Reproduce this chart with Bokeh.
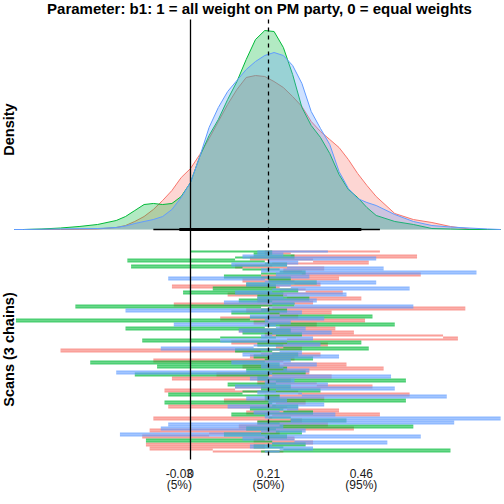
import numpy as np
from bokeh.plotting import figure
from bokeh.models import Range1d, Label, FixedTicker
from bokeh.embed import file_html
from bokeh.resources import INLINE

# ---- data -------------------------------------------------------------
chain_names = ["chain 1", "chain 2", "chain 3"]
chain_colors = ["#F8766D", "#00BA38", "#619CFF"]

# posterior density of b1 per chain, evaluated on a common grid
dens_x = [-0.475, -0.45, -0.40, -0.35, -0.30, -0.25, -0.20, -0.175, -0.15, -0.125,
          -0.10, -0.075, -0.05, -0.025, 0.0, 0.025, 0.05, 0.075, 0.10, 0.125,
          0.15, 0.175, 0.20, 0.225, 0.25, 0.275, 0.30, 0.325, 0.35, 0.375,
          0.40, 0.425, 0.45, 0.475, 0.50, 0.55, 0.60, 0.65, 0.70, 0.75, 0.80, 0.835]
dens_red = [0, 0, 0, 0, 0.003, 0.007, 0.027, 0.053, 0.107, 0.173,
            0.267, 0.387, 0.52, 0.693, 0.813, 1.0, 1.213, 1.44, 1.667, 1.867,
            2.027, 2.053, 2.04, 1.973, 1.893, 1.773, 1.64, 1.44, 1.307, 1.2,
            1.093, 0.933, 0.747, 0.587, 0.44, 0.213, 0.133, 0.093, 0.04, 0.007, 0, 0]
dens_green = [0, 0, 0.007, 0.02, 0.04, 0.067, 0.12, 0.173, 0.253, 0.333,
              0.347, 0.333, 0.347, 0.44, 0.627, 0.973, 1.253, 1.467, 1.733, 1.973,
              2.267, 2.533, 2.653, 2.64, 2.427, 2.067, 1.627, 1.387, 1.227, 1.013,
              0.733, 0.533, 0.427, 0.293, 0.187, 0.107, 0.067, 0.013, 0.007, 0, 0, 0]
dens_blue = [0, 0, 0.004, 0.007, 0.011, 0.013, 0.027, 0.047, 0.08, 0.107,
             0.133, 0.173, 0.267, 0.427, 0.627, 0.973, 1.36, 1.627, 1.84, 1.987,
             2.133, 2.24, 2.32, 2.36, 2.32, 2.187, 1.947, 1.573, 1.347, 1.133,
             0.773, 0.547, 0.413, 0.36, 0.32, 0.2, 0.107, 0.053, 0.033, 0.02, 0.007, 0]

# sampled values of b1, one list per chain (scan order)
trace_red = [0.51, 0.20, 0.27, 0.61, 0.16, 0.33, 0.48, 0.22, 0.12, 0.36,
             0.25, 0.30, 0.62, 0.19, 0.40, 0.14, 0.28, 0.35, -0.05, 0.24,
             0.31, 0.41, 0.10, 0.26, 0.46, 0.18, 0.33, -0.045, 0.22, 0.74,
             0.15, 0.38, 0.21, 0.29, 0.08, 0.47, 0.17, 0.34, 0.24, 0.39,
             0.13, 0.44, 0.20, 0.68, 0.72, 0.26, 0.11, 0.37, 0.23, 0.30,
             -0.35, 0.19, 0.35, 0.16, 0.28, -0.10, 0.25, 0.42, 0.14, 0.52,
             0.21, 0.32, 0.07, 0.38, -0.05, 0.27, 0.18, 0.34, 0.49, 0.12,
             -0.07, 0.29, 0.59, 0.20, 0.36, 0.09, 0.31, 0.23, -0.06, 0.26,
             0.40, 0.15, 0.51, 0.22, -0.10, 0.30, 0.18, 0.37, 0.13, 0.44,
             -0.11, 0.24, 0.05, -0.13, 0.28, 0.17, 0.33, -0.12, 0.20, -0.11,
             0.06, 0.25]
trace_green = [0.00, 0.22, 0.17, 0.28, 0.12, -0.17, 0.20, 0.26, -0.16, 0.14,
               0.24, 0.31, 0.19, 0.09, 0.27, 0.21, 0.34, 0.15, 0.23, 0.06,
               0.29, -0.02, 0.25, 0.18, 0.32, 0.13, 0.22, 0.28, -0.31, 0.19,
               0.26, 0.11, 0.24, 0.49, 0.16, -0.47, 0.21, 0.55, 0.20, -0.175,
               0.27, 0.14, 0.30, 0.23, 0.08, -0.13, 0.46, 0.18, 0.25, 0.48,
               0.12, 0.22, 0.29, 0.17, 0.33, 0.20, -0.27, 0.24, -0.09, 0.26,
               0.15, 0.31, -0.15, 0.21, 0.18, 0.58, 0.23, 0.10, 0.27, 0.19,
               0.35, 0.14, -0.06, 0.24, 0.20, 0.58, -0.07, 0.22, 0.29, 0.16,
               0.25, 0.33, 0.11, 0.21, 0.27, 0.42, 0.18, 0.24, 0.60, 0.15,
               0.23, 0.30, 0.09, 0.26, 0.20, -0.12, 0.22, 0.31, 0.17, 0.25,
               0.70, 0.19]
trace_blue = [0.37, 0.18, 0.25, 0.14, 0.50, 0.21, 0.29, 0.11, 0.26, 0.52,
              0.19, 0.77, 0.23, 0.32, -0.06, 0.20, 0.50, 0.15, 0.27, 0.59,
              0.22, 0.12, 0.42, 0.25, 0.18, 0.34, 0.09, 0.28, 0.60, 0.21,
              -0.175, 0.30, 0.24, 0.16, 0.36, 0.20, 0.27, -0.045, 0.23, 0.31,
              0.13, 0.38, 0.22, 0.19, 0.33, 0.08, 0.26, 0.35, 0.17, -0.08,
              0.24, 0.30, 0.14, 0.40, 0.21, 0.27, 0.11, 0.34, 0.19, 0.25,
              0.32, -0.20, 0.22, 0.54, 0.16, 0.28, 0.20, 0.37, 0.12, 0.55,
              0.23, 0.18, 0.30, 0.69, 0.15, 0.26, 0.21, 0.36, 0.10, 0.29,
              0.24, 0.17, 0.39, 0.20, 0.835, 0.27, 0.71, -0.06, 0.25, -0.08,
              0.31, 0.19, -0.19, 0.62, 0.14, 0.28, 0.53, 0.22, 0.16, 0.33,
              0.24, 0.20]

# posterior summaries
quant_probs = ["5%", "50%", "95%"]
quant_vals = [-0.03, 0.21, 0.46]
interval_90 = [-0.03, 0.46]
interval_95 = [-0.10, 0.51]
zero_ref = 0.0
median_ref = 0.21

tick_vals = [quant_vals[0], zero_ref, quant_vals[1], quant_vals[2]]
tick_text = {
    quant_vals[0]: f"{quant_vals[0]:.2f}\n({quant_probs[0]})",
    zero_ref: "0",
    quant_vals[1]: f"{quant_vals[1]:.2f}\n({quant_probs[1]})",
    quant_vals[2]: f"{quant_vals[2]:.2f}\n({quant_probs[2]})",
}

title_text = "Parameter: b1: 1 = all weight on PM party, 0 = equal weights"

# ---- figure -----------------------------------------------------------
FONT = "Liberation Sans"
FRAME_H = 462

p = figure(width=504, height=504, output_backend="svg", toolbar_location=None,
           x_range=Range1d(-190 / 371.4, 314 / 371.4),
           y_range=Range1d(FRAME_H, 0),
           min_border_left=0, min_border_right=0, min_border_top=0,
           min_border_bottom=504 - FRAME_H, y_axis_location=None,
           outline_line_color=None, background_fill_color="white",
           border_fill_color="white")
p.xgrid.visible = False
p.ygrid.visible = False

# layout ranges: pixel grid, density panel, scan panel
p.extra_x_ranges = {"pxx": Range1d(0, 504)}
p.extra_y_ranges = {
    "dens": Range1d(-233 / 75, 229 / 75),
    "scan": Range1d(1 + (FRAME_H - 249) / 2, 1 - 249 / 2),
}

# density panel
for dens, col in zip([dens_red, dens_green, dens_blue], chain_colors):
    p.varea(x=dens_x, y1=np.zeros(len(dens_x)), y2=dens, fill_color=col,
            fill_alpha=0.3, y_range_name="dens")
    p.line(x=dens_x, y=dens, line_color=col, line_width=1, y_range_name="dens")

# credible intervals on the density baseline
p.line(x=interval_95, y=[0, 0], line_color="black", line_width=1.6,
       y_range_name="dens")
p.line(x=interval_90, y=[0, 0], line_color="black", line_width=3,
       y_range_name="dens")

# trace panel: each move between consecutive scans as a horizontal run
for tr, col in zip([trace_red, trace_green, trace_blue], chain_colors):
    v = np.asarray(tr, dtype=float)
    scans = np.arange(1, len(v) + 1)
    p.segment(x0=v[:-1], x1=v[1:], y0=scans[1:], y1=scans[1:],
              line_color=col, line_alpha=0.7, line_width=2,
              y_range_name="scan")

# reference lines at zero and the posterior median
p.segment(x0=[zero_ref], x1=[zero_ref], y0=[19], y1=[459], line_color="black",
          line_width=1.3)
p.segment(x0=[median_ref], x1=[median_ref], y0=[19], y1=[459],
          line_color="black", line_width=1.3, line_dash="4 4")

# x axis with quantile labels
ax = p.xaxis[0]
ax.ticker = FixedTicker(ticks=tick_vals)
ax.major_label_overrides = tick_text
ax.axis_line_color = None
ax.major_tick_line_color = None
ax.minor_tick_line_color = None
ax.major_tick_out = 0
ax.major_tick_in = 0
ax.major_label_standoff = 4
ax.major_label_text_font = FONT
ax.major_label_text_font_size = "12px"
ax.major_label_text_line_height = 0.8
ax.major_label_text_color = "#1a1a1a"

# title and panel labels
p.add_layout(Label(x=259, y=8, text=title_text, x_range_name="pxx",
                   text_font=FONT, text_font_style="bold", text_font_size="15px",
                   text_align="center", text_baseline="middle", text_color="black"))
p.add_layout(Label(x=8.5, y=129, text="Density", angle=np.pi / 2,
                   x_range_name="pxx", text_font=FONT, text_font_style="bold",
                   text_font_size="14.5px", text_align="center",
                   text_baseline="middle", text_color="black"))
p.add_layout(Label(x=8.5, y=349, text="Scans (3 chains)", angle=np.pi / 2,
                   x_range_name="pxx", text_font=FONT, text_font_style="bold",
                   text_font_size="14.5px", text_align="center",
                   text_baseline="middle", text_color="black"))

open("out.html", "w").write(file_html(p, INLINE))
